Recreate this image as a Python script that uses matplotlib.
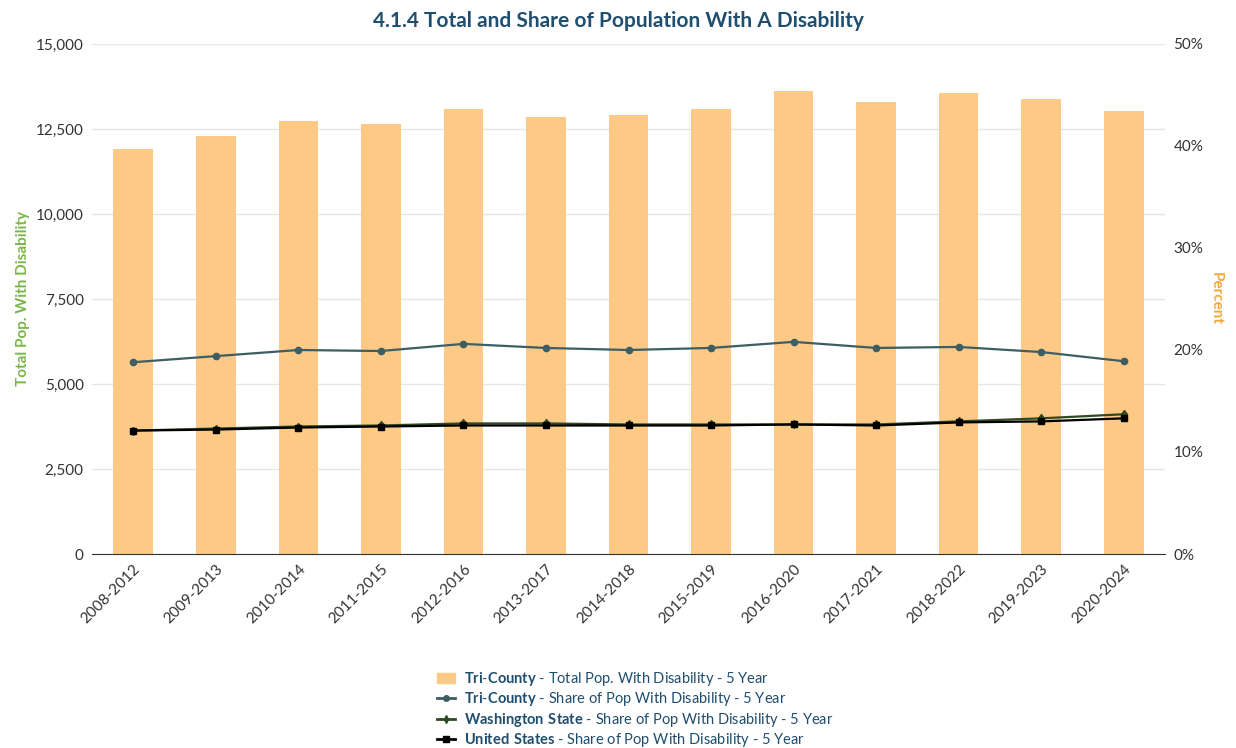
import matplotlib
matplotlib.use("Agg")
import matplotlib.pyplot as plt
import numpy as np
from matplotlib.lines import Line2D
from matplotlib.patches import Patch

plt.rcParams['font.family'] = ['Lato', 'DejaVu Sans']
plt.rcParams['mathtext.fontset'] = 'custom'
plt.rcParams['mathtext.bf'] = 'Lato:bold'
plt.rcParams['mathtext.rm'] = 'Lato'

periods = ["2008-2012","2009-2013","2010-2014","2011-2015","2012-2016","2013-2017","2014-2018",
           "2015-2019","2016-2020","2017-2021","2018-2022","2019-2023","2020-2024"]
tri_total = [11910, 12290, 12735, 12650, 13090, 12850, 12910, 13090, 13620, 13300, 13560, 13380, 13030]
tri_share = [18.8, 19.4, 20.0, 19.9, 20.6, 20.2, 20.0, 20.2, 20.8, 20.2, 20.3, 19.8, 18.9]
wa_share = [12.1, 12.3, 12.5, 12.6, 12.8, 12.8, 12.7, 12.7, 12.7, 12.7, 13.0, 13.3, 13.7]
us_share = [12.1, 12.2, 12.4, 12.5, 12.6, 12.6, 12.6, 12.6, 12.7, 12.6, 12.9, 13.0, 13.3]

fig = plt.figure(figsize=(12.36, 7.48), dpi=100)
ax = fig.add_axes([92/1236, 1-554/748, (1165-92)/1236, 510/748])
x = np.arange(len(periods))
ax.bar(x, tri_total, width=0.48, color='#fdc986', zorder=2)
ax.set_ylim(0, 15000)
ax.set_xlim(-0.5, len(periods)-0.5)
ax.set_yticks(np.arange(0, 15001, 2500))
ax.set_yticklabels([f"{v:,}" for v in range(0, 15001, 2500)])
ax.set_xticks(x)
ax.set_xticklabels(periods, rotation=45, ha='right', rotation_mode='anchor')
ax.grid(axis='y', color='#e6e6e6', lw=1, zorder=0)
for s in ['top', 'right', 'left']:
    ax.spines[s].set_visible(False)
ax.spines['bottom'].set_color('#333333')
ax.tick_params(axis='both', length=0, labelsize=11, colors='#333333', pad=6)
ax.set_ylabel('Total Pop. With Disability', color='#7ab648', fontsize=11, fontweight='bold')

ax2 = ax.twinx()
ax2.set_ylim(0, 50)
ax2.set_yticks(np.arange(0, 51, 10))
ax2.set_yticklabels([f"{v}%" for v in range(0, 51, 10)])
for s in ax2.spines.values():
    s.set_visible(False)
ax2.tick_params(axis='y', length=0, labelsize=11, colors='#333333', pad=6)
ax2.set_ylabel('Percent', color='#f2a93b', fontsize=11, fontweight='bold', rotation=270, labelpad=14)
ax2.plot(x, tri_share, color='#3d5e63', lw=1.6, marker='o', ms=4.5, zorder=3)
ax2.plot(x, wa_share, color='#2f4a1f', lw=1.6, marker='d', ms=4.5, zorder=3)
ax2.plot(x, us_share, color='#000000', lw=1.6, marker='s', ms=5, zorder=4)

fig.suptitle('4.1.4 Total and Share of Population With A Disability', x=0.5, y=0.985,
             fontsize=15, fontweight='bold', color='#1f4e6e')

handles = [Patch(color='#fdc986'),
           Line2D([], [], color='#3d5e63', marker='o', ms=4, lw=2),
           Line2D([], [], color='#2f4a1f', marker='d', ms=4, lw=2),
           Line2D([], [], color='#000000', marker='s', ms=4, lw=2)]
labels = [r'$\bf{Tri}$-$\bf{County}$ - Total Pop. With Disability - 5 Year',
          r'$\bf{Tri}$-$\bf{County}$ - Share of Pop With Disability - 5 Year',
          r'$\bf{Washington\ State}$ - Share of Pop With Disability - 5 Year',
          r'$\bf{United\ States}$ - Share of Pop With Disability - 5 Year']
leg = fig.legend(handles, labels, loc='upper left', bbox_to_anchor=(430/1236, 1-663/748),
                 frameon=False, fontsize=10.5, handlelength=1.2, labelspacing=0.15,
                 handletextpad=0.6, borderpad=0)
for t in leg.get_texts():
    t.set_color('#1f4e6e')
fig.savefig('out.png', dpi=100)
